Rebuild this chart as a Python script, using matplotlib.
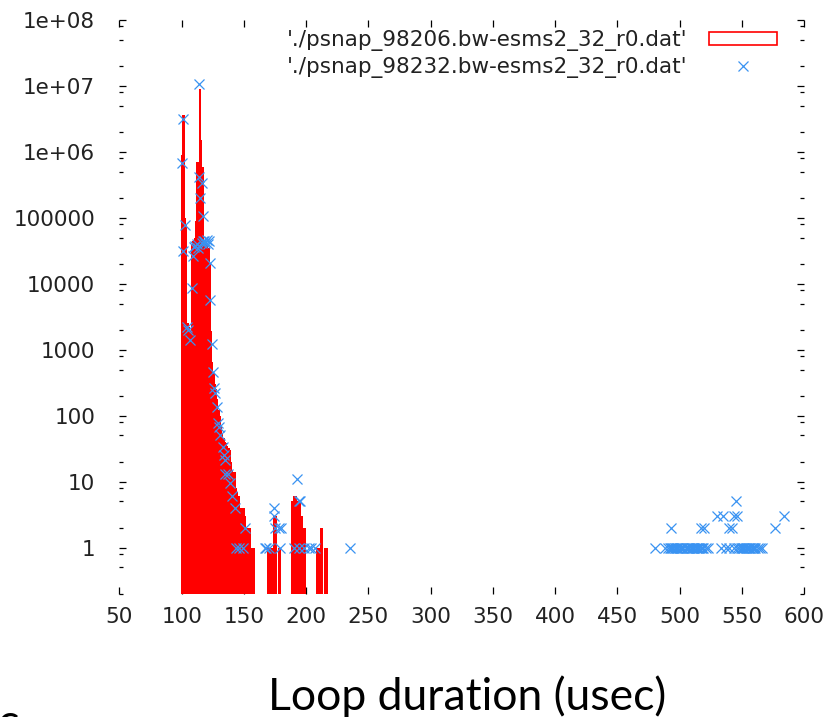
import matplotlib
matplotlib.use("Agg")
import matplotlib.pyplot as plt
from matplotlib.patches import Patch
from matplotlib.lines import Line2D
from matplotlib.ticker import FixedLocator, FixedFormatter, NullFormatter

# ---- data: histogram of psnap_98206 (red boxes), one bin per usec ----
red_x = [100, 101, 102, 103, 104, 105, 106, 107, 108, 109,
         110, 111, 112, 113, 114, 115, 116, 117, 118, 119,
         120, 121, 122, 123, 124, 125, 126, 127, 128, 129,
         130, 131, 132, 133, 134, 135, 136, 137, 138, 139,
         140, 141, 142, 143, 144, 145, 146, 147, 148, 149,
         150, 151, 152, 153, 154, 155, 156, 157, 158,
         169, 170, 171, 172, 173, 174, 175, 176, 178, 179,
         188, 189, 190, 191, 192, 193, 194, 195, 196, 197, 198, 199,
         208, 209, 210, 211, 212, 213, 215, 216, 217]
red_counts = [9.0e5, 3.6e6, 3.6e6, 1.0e5, 8.0e4, 2.5e3, 2.2e3, 2.0e3, 4.0e4, 4.5e4,
              5.0e4, 9.0e4, 7.0e5, 7.0e5, 9.0e6, 9.0e6, 1.5e6, 6.0e5, 4.5e4, 4.5e4,
              4.5e4, 4.0e4, 3.5e4, 2.0e4, 1.9e3, 640, 450, 300, 250, 180,
              120, 100, 70, 55, 45, 40, 38, 35, 32, 30,
              20, 15, 14, 14, 8, 7, 6, 4, 4, 4,
              4, 3, 2, 2, 2, 2, 1, 1, 1,
              1, 1, 1, 1, 1, 3, 3, 3, 1, 1,
              5, 5, 6, 6, 6, 5, 5, 5, 3, 3, 2, 2,
              1, 1, 1, 1, 2, 2, 1, 1, 1]

# ---- data: psnap_98232 (blue crosses) ----
blue_x = [100, 101, 101, 103, 104, 105, 107, 108, 109, 110,
          111, 112, 113, 114, 114, 115, 116, 117, 116, 117,
          118, 119, 120, 121, 122, 123, 123, 124, 125, 126,
          127, 128, 129, 130, 131, 133, 134, 135, 135, 137,
          139, 140, 143, 144, 146, 149, 151, 167, 168, 170,
          174, 174, 175, 178, 179, 180, 190, 193, 194, 195,
          194, 198, 202, 204, 207, 235,
          480, 488, 491, 492, 493, 494, 495, 496, 497, 498,
          499, 500, 501, 502, 503, 505, 506, 507, 508, 509,
          510, 511, 512, 513, 514, 515, 516, 517, 518, 519,
          521, 523, 533, 537, 540, 544, 546, 548, 549, 550,
          551, 552, 553, 554, 555, 556, 557, 558, 559, 560,
          561, 563, 565, 566,
          493, 517, 520, 540, 542, 577,
          530, 535, 544, 546, 584,
          545]
blue_counts = [6.9e5, 3.1e6, 3.1e4, 7.8e4, 2.2e3, 2.0e3, 1.4e3, 8.5e3, 2.6e4, 3.6e4,
               3.8e4, 4.0e4, 3.5e4, 1.07e7, 4.2e5, 2.0e5, 3.4e5, 1.07e5, 4.2e4, 4.4e4,
               4.5e4, 4.2e4, 4.6e4, 4.0e4, 4.4e4, 2.1e4, 5.6e3, 1.2e3, 460, 260,
               220, 137, 76, 68, 51, 34, 25, 21, 13, 13,
               9.4, 6, 4, 1, 1, 1, 2, 1, 1, 1,
               4, 3, 2, 2, 1, 2, 1, 11, 5, 5,
               1, 1, 1, 1, 1, 1,
               1, 1, 1, 1, 1, 1, 1, 1, 1, 1,
               1, 1, 1, 1, 1, 1, 1, 1, 1, 1,
               1, 1, 1, 1, 1, 1, 1, 1, 1, 1,
               1, 1, 1, 1, 1, 1, 1, 1, 1, 1,
               1, 1, 1, 1, 1, 1, 1, 1, 1, 1,
               1, 1, 1, 1,
               2, 2, 2, 2, 2, 2,
               3, 3, 3, 3, 3,
               5]

x_ticks = [50, 100, 150, 200, 250, 300, 350, 400, 450, 500, 550, 600]
y_ticks = [1, 10, 100, 1000, 10000, 100000, 1e6, 1e7, 1e8]
y_tick_labels = ["1", "10", "100", "1000", "10000", "100000", "1e+06", "1e+07", "1e+08"]
y_minor_mantissas = [2, 5, 8]
legend_labels = ["'./psnap_98206.bw-esms2_32_r0.dat'",
                 "'./psnap_98232.bw-esms2_32_r0.dat'"]
x_label = "Loop duration (usec)"

RED = "#ff0000"
BLUE = "#3a93f2"
FS = 15.5

fig = plt.figure(figsize=(8.36, 7.17), dpi=100)
ax = fig.add_axes([0.14294, 0.17211, 0.81878, 0.80000])
ax.set_yscale("log")

ax.bar(red_x, red_counts, width=1.0, color=RED, linewidth=0, zorder=2)
ax.plot(blue_x, blue_counts, linestyle="none", marker="x", markersize=7.2,
        markeredgewidth=0.9, color=BLUE, zorder=3)

ax.set_xlim(50, 600)
ax.set_ylim(0.2, 1e8)

for s in ax.spines.values():
    s.set_visible(False)

ax.xaxis.set_major_locator(FixedLocator(x_ticks))
ax.yaxis.set_major_locator(FixedLocator(y_ticks))
ax.yaxis.set_major_formatter(FixedFormatter(y_tick_labels))
minor = [m * 10.0 ** e for e in range(-1, 8) for m in y_minor_mantissas]
minor = [v for v in minor if 0.2 <= v <= 1e8]
ax.yaxis.set_minor_locator(FixedLocator(minor))
ax.yaxis.set_minor_formatter(NullFormatter())
ax.xaxis.set_minor_locator(FixedLocator([]))

ax.tick_params(which="both", direction="in", top=True, right=True,
               color="black", width=0.9, labelsize=FS, labelcolor="#222222")
ax.tick_params(which="major", length=5)
ax.tick_params(which="minor", length=3)
ax.tick_params(axis="y", which="major", pad=17.5)
ax.tick_params(axis="x", which="major", pad=9.5)

handles = [Patch(facecolor="none", edgecolor=RED, linewidth=1.2),
           Line2D([], [], linestyle="none", marker="x", markersize=7.2,
                  markeredgewidth=0.9, color=BLUE)]
leg = ax.legend(handles, legend_labels, loc="upper right",
                bbox_to_anchor=(0.9606, 0.9825), frameon=False, markerfirst=False,
                fontsize=FS, handlelength=3.15, handleheight=0.52,
                handletextpad=1.0, labelspacing=0.28, borderpad=0, borderaxespad=0)
for t in leg.get_texts():
    t.set_color("#222222")

fig.text(467.5 / 836, 7 / 717, x_label, ha="center", va="baseline",
         fontsize=32, family=["Lato", "DejaVu Sans"], color="black")
fig.text(-0.003, -18.5 / 717, "c", ha="left", va="baseline",
         fontsize=32, family=["Lato", "DejaVu Sans"], color="black")

fig.savefig("out.png", dpi=100)
